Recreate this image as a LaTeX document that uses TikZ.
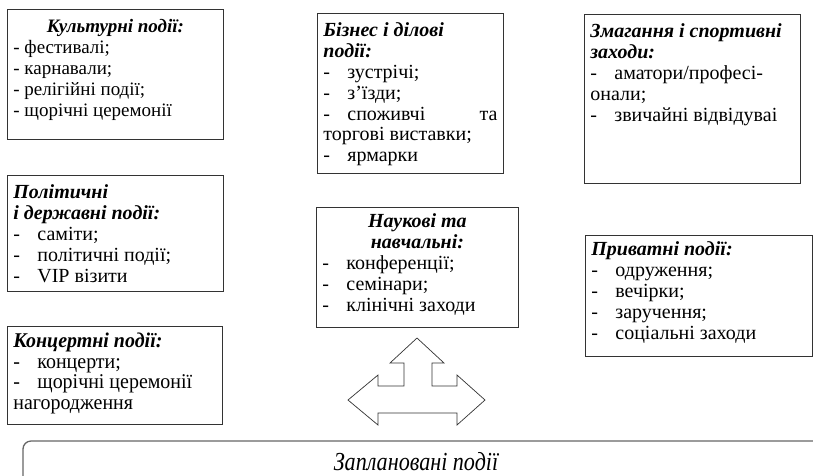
\documentclass[tikz,border=0pt]{standalone}
\usepackage{fontspec}
\setmainfont{Liberation Serif}
\newfontfamily\narrowfont[FakeStretch=0.95]{Liberation Serif}
\newfontfamily\tallfont[FakeStretch=0.85]{Liberation Serif}
\usetikzlibrary{positioning}
\newcommand{\evdash}{\makebox[24pt][l]{-}}
\newcommand{\evbox}[3]{\parbox[t][#2][t]{#1}{\strut #3}}
\newcommand{\evtitle}[1]{{\bfseries\itshape #1}}

\begin{document}
\begin{tikzpicture}
[x=1pt,y=-1pt,
event/.style={draw=black!80,line width=.8pt,anchor=north west,
  inner xsep=6pt,inner ysep=9pt,font=\fontsize{20}{20.8}\selectfont},
plan/.style={draw=black!60,line width=1.3pt,rounded corners=8pt},
threeway/.style={draw=black!80,line width=.7pt,fill=white}]
\useasboundingbox (0,0) rectangle (813,475);
%%
\node[event,font=\fontsize{19}{20.8}\selectfont] (culture) at (7,9)
  {\evbox{204pt}{112pt}{%
  {\centering\evtitle{Культурні події:}\par}
  - фестивалі;\\
  - карнавали;\\
  - релігійні події;\\
  - щорічні церемонії}};
\node[event] (business) at (317,13) {\evbox{174pt}{142pt}{%
  \evtitle{Бізнес і ділові\\ події:}\\
  \evdash зустрічі;\\
  \evdash з’їзди;\\
  \evdash споживчі та\linebreak торгові виставки;\\
  \evdash ярмарки}};
\node[event] (sport) at (584,14) {\evbox{204pt}{151pt}{%
  \evtitle{Змагання і спортивні\\ заходи:}\\
  \evdash аматори/професі-\\ онали;\\
  \evdash звичайні відвідуваі}};
%%
\node[event] (politics) at (7,175) {\evbox{204pt}{98pt}{%
  \evtitle{Політичні\\ і державні події:}\\
  \evdash саміти;\\
  \evdash політичні події;\\
  \evdash VIP візити}};
\node[event,inner ysep=6pt] (science) at (316,207) {\evbox{190pt}{108pt}{%
  {\centering\evtitle{Наукові та\\ навчальні:}\par}
  \evdash конференції;\\
  \evdash семінари;\\
  \evdash клінічні заходи}};
\node[event,inner ysep=6pt] (private) at (585,235) {\evbox{215pt}{109pt}{%
  \evtitle{Приватні події:}\\
  \evdash одруження;\\
  \evdash вечірки;\\
  \evdash заручення;\\
  \evdash соціальні заходи}};
\node[event,inner ysep=7pt,font=\narrowfont\fontsize{21}{20.5}\selectfont] (concert)
  at (7,326) {\evbox{203pt}{84pt}{%
  \evtitle{Концертні події:}\\
  \evdash концерти;\\
  \evdash щорічні церемонії\\
  нагородження}};
%%
\draw[threeway] (417,338) -- (444,363) -- (432,363) -- (432,386) -- (457,386)
  -- (457,375) -- (485,400) -- (457,425) -- (457,413) -- (378,413)
  -- (378,425) -- (348,400) -- (378,375) -- (378,386) -- (404,386)
  -- (404,363) -- (390,363) -- cycle;
%%
\draw[plan] (23,441) rectangle (850,500);
\node[font=\tallfont\fontsize{26}{28}\selectfont\itshape] (planned) at (416,462)
  {Заплановані події};
\end{tikzpicture}
\end{document}
